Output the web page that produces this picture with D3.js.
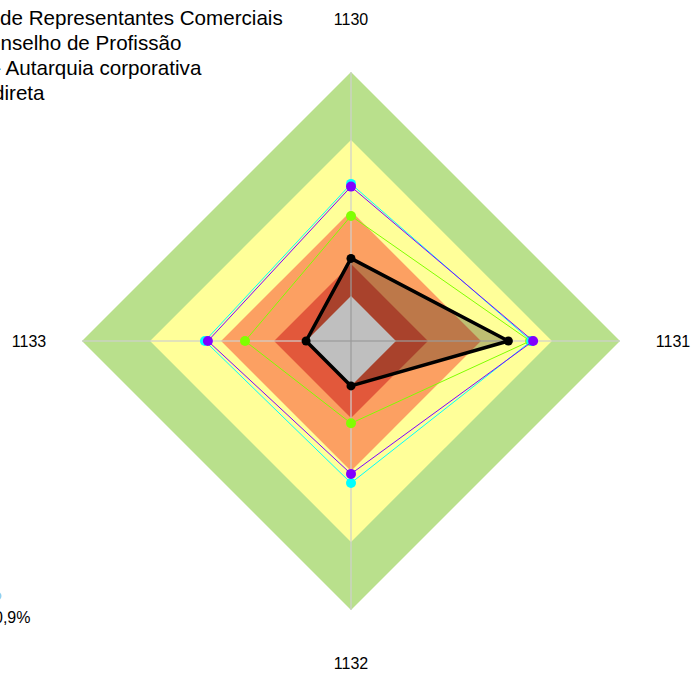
<!DOCTYPE html>
<html>
<head>
<meta charset="utf-8">
<script src="https://cdn.jsdelivr.net/npm/d3@7"></script>
<style>
  html, body { margin: 0; padding: 0; background: #fff; overflow: hidden; }
  svg { display: block; font-family: "Liberation Sans", Arial, sans-serif; }
</style>
</head>
<body>
<svg id="chart" width="693" height="675"></svg>
<script>
// axes of the radar, clockwise from the top
const axes = ["1130", "1131", "1132", "1133"];

// background bands (upper limit of each band, in %)
const bandLimits = [16.7, 28.6, 48.3, 74.7, 100];
const bandColors = ["#ffffff", "#e2583b", "#fca062", "#ffff99", "#b9e08c"];

// series values per axis (%)
const serieA = [30.7, 58.5, 16.7, 16.7];   // black, filled
const serieB = [46.5, 66.6, 30.6, 39.4];   // green
const serieC = [58.4, 67.0, 52.8, 54.3];   // cyan
const serieD = [57.4, 67.7, 49.4, 53.2];   // purple

const legendPrefix = ["Conselho Regional ", "Co", "Conselho de Profissão -", "Administração In"];
const legendRest = ["de Representantes Comerciais", "nselho de Profissão", " Autarquia corporativa", "direta"];
const legendStart = [0, 0.5, 1, -7];

const noteText = ["Média: 6", "0,9%"];

const width = 693, height = 675;
const cx = 351, cy = 341, outer = 269;

const svg = d3.select("#chart");
const r = d3.scaleLinear().domain([0, 100]).range([0, outer]);
const angle = d3.scalePoint().domain(axes).range([0, 2 * Math.PI * 3 / 4]);

const g = svg.append("g").attr("transform", `translate(${cx},${cy})`);

const radial = d3.lineRadial()
  .angle((d, i) => angle(axes[i]))
  .radius(d => r(d))
  .curve(d3.curveLinearClosed);

// bands, outermost first
for (let i = bandLimits.length - 1; i >= 0; i--) {
  g.append("path")
    .attr("d", radial(axes.map(() => bandLimits[i])))
    .attr("fill", bandColors[i]);
}

// axis lines
axes.forEach(a => {
  const t = angle(a);
  g.append("line")
    .attr("x1", 0).attr("y1", 0)
    .attr("x2", r(100) * Math.sin(t))
    .attr("y2", -r(100) * Math.cos(t))
    .attr("stroke", "#d0d0d0")
    .attr("stroke-opacity", 0.8)
    .attr("stroke-width", 1.5);
});

// axis labels
axes.forEach(a => {
  const t = angle(a);
  g.append("text")
    .attr("x", 322 * Math.sin(t))
    .attr("y", -322 * Math.cos(t))
    .attr("text-anchor", "middle")
    .attr("dominant-baseline", "central")
    .attr("font-size", "16px")
    .attr("fill", "#000")
    .text(a);
});

function drawSerie(values, color, lineWidth, dotR, fill) {
  g.append("path")
    .attr("d", radial(values))
    .attr("fill", fill ? "#000" : "none")
    .attr("fill-opacity", fill ? 0.25 : 0)
    .attr("stroke", color)
    .attr("stroke-width", lineWidth)
    .attr("stroke-linejoin", "round");
  g.selectAll(null)
    .data(values)
    .enter().append("circle")
    .attr("cx", (d, i) => r(d) * Math.sin(angle(axes[i])))
    .attr("cy", (d, i) => -r(d) * Math.cos(angle(axes[i])))
    .attr("r", dotR)
    .attr("fill", color);
}

drawSerie(serieB, "#80ff00", 1, 5, false);
drawSerie(serieC, "#00ffff", 1, 5, false);
drawSerie(serieD, "#8000ff", 1, 5, false);
drawSerie(serieA, "#000000", 3.5, 4.5, true);

// legend (cut by the left edge)
legendRest.forEach((txt, i) => {
  const t = svg.append("text")
    .attr("y", 25 + i * 25)
    .attr("font-size", "20.6px")
    .attr("fill", "#000")
    .attr("xml:space", "preserve")
    .style("white-space", "pre");
  const pre = t.append("tspan").text(legendPrefix[i]);
  t.append("tspan").text(txt);
  const w = pre.node().getComputedTextLength();
  t.attr("x", legendStart[i] - w);
});

// note at the bottom left
svg.append("circle")
  .attr("cx", -3).attr("cy", 596).attr("r", 4.5)
  .attr("fill", "#8fd0f0");
const note = svg.append("text")
  .attr("y", 623)
  .attr("font-size", "16px")
  .attr("fill", "#000");
const notePre = note.append("tspan").text(noteText[0]);
note.append("tspan").text(noteText[1]);
note.attr("x", 0 - notePre.node().getComputedTextLength() - 6);
</script>
</body>
</html>
